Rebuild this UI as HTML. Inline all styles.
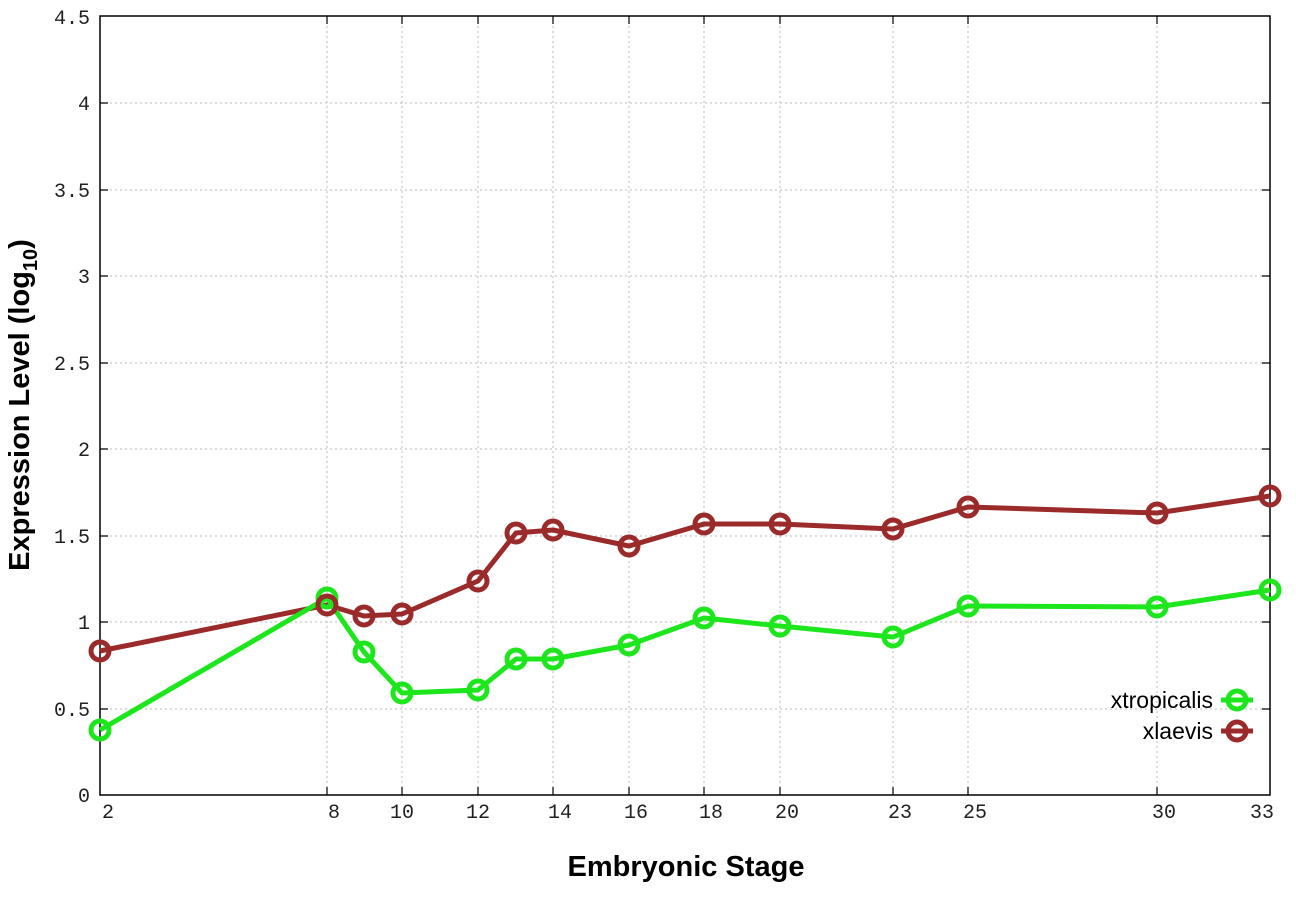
<!DOCTYPE html>
<html><head><style>body{margin:0;background:#fff}</style></head><body>
<svg width="1296" height="907" viewBox="0 0 1296 907" xmlns="http://www.w3.org/2000/svg">
<rect width="1296" height="907" fill="#fff"/>
<g stroke="#bbb" stroke-width="1" stroke-dasharray="2,3">
<line x1="100" x2="1270" y1="709" y2="709"/><line x1="100" x2="1270" y1="622" y2="622"/>
<line x1="100" x2="1270" y1="536" y2="536"/><line x1="100" x2="1270" y1="449" y2="449"/>
<line x1="100" x2="1270" y1="363" y2="363"/><line x1="100" x2="1270" y1="276" y2="276"/>
<line x1="100" x2="1270" y1="190" y2="190"/><line x1="100" x2="1270" y1="103" y2="103"/>
<line x1="327" x2="327" y1="16" y2="795"/><line x1="402" x2="402" y1="16" y2="795"/>
<line x1="478" x2="478" y1="16" y2="795"/><line x1="553" x2="553" y1="16" y2="795"/>
<line x1="629" x2="629" y1="16" y2="795"/><line x1="704" x2="704" y1="16" y2="795"/>
<line x1="780" x2="780" y1="16" y2="795"/><line x1="893" x2="893" y1="16" y2="795"/>
<line x1="968" x2="968" y1="16" y2="795"/><line x1="1157" x2="1157" y1="16" y2="795"/>
</g>
<rect x="100" y="16" width="1170" height="779" fill="none" stroke="#000" stroke-width="1.5"/>
<g stroke="#000" stroke-width="1.2">
<path d="M100 709h8M100 622h8M100 536h8M100 449h8M100 363h8M100 276h8M100 190h8M100 103h8M1270 709h-8M1270 622h-8M1270 536h-8M1270 449h-8M1270 363h-8M1270 276h-8M1270 190h-8M1270 103h-8"/>
<path d="M327 795v-8M402 795v-8M478 795v-8M553 795v-8M629 795v-8M704 795v-8M780 795v-8M893 795v-8M968 795v-8M1157 795v-8M327 16v8M402 16v8M478 16v8M553 16v8M629 16v8M704 16v8M780 16v8M893 16v8M968 16v8M1157 16v8"/>
</g>
<g font-family="Liberation Mono, monospace" font-size="20" fill="#222" text-anchor="end">
<text x="90" y="802">0</text><text x="90" y="716">0.5</text><text x="90" y="629">1</text>
<text x="90" y="543">1.5</text><text x="90" y="456">2</text><text x="90" y="370">2.5</text>
<text x="90" y="283">3</text><text x="90" y="197">3.5</text><text x="90" y="110">4</text><text x="90" y="24">4.5</text>
</g>
<g font-family="Liberation Mono, monospace" font-size="20" fill="#222" text-anchor="middle">
<text x="108" y="818">2</text><text x="334" y="818">8</text><text x="402" y="818">10</text><text x="478" y="818">12</text>
<text x="560" y="818">14</text><text x="636" y="818">16</text><text x="711" y="818">18</text><text x="787" y="818">20</text>
<text x="900" y="818">23</text><text x="975" y="818">25</text><text x="1164" y="818">30</text><text x="1262" y="818">33</text>
</g>
<text x="686" y="876" font-family="Liberation Sans, sans-serif" font-weight="bold" font-size="29" text-anchor="middle">Embryonic Stage</text>
<text transform="translate(29,405) rotate(-90)" font-family="Liberation Sans, sans-serif" font-weight="bold" font-size="29" text-anchor="middle">Expression Level (log<tspan font-size="20" dy="8">10</tspan><tspan dy="-8">)</tspan></text>
<g fill="none" stroke-width="5" stroke-linejoin="round">
<polyline stroke="#9b2a2a" points="100,651 327,605 364,616 402,614 478,581 516,533 553,530 629,546 704,524 780,524 893,529 968,507 1157,513 1270,496"/>
<polyline stroke="#1de61d" points="100,730 327,598 364,652 402,693 478,690 516,659 553,659 629,645 704,618 780,626 893,637 968,606 1157,607 1270,590"/>
<g stroke="#1de61d">
<circle cx="100" cy="730" r="9"/><circle cx="327" cy="598" r="9"/><circle cx="364" cy="652" r="9"/><circle cx="402" cy="693" r="9"/><circle cx="478" cy="690" r="9"/><circle cx="516" cy="659" r="9"/><circle cx="553" cy="659" r="9"/><circle cx="629" cy="645" r="9"/><circle cx="704" cy="618" r="9"/><circle cx="780" cy="626" r="9"/><circle cx="893" cy="637" r="9"/><circle cx="968" cy="606" r="9"/><circle cx="1157" cy="607" r="9"/><circle cx="1270" cy="590" r="9"/>
</g>
<g stroke="#9b2a2a">
<circle cx="100" cy="651" r="9"/><circle cx="327" cy="605" r="9"/><circle cx="364" cy="616" r="9"/><circle cx="402" cy="614" r="9"/><circle cx="478" cy="581" r="9"/><circle cx="516" cy="533" r="9"/><circle cx="553" cy="530" r="9"/><circle cx="629" cy="546" r="9"/><circle cx="704" cy="524" r="9"/><circle cx="780" cy="524" r="9"/><circle cx="893" cy="529" r="9"/><circle cx="968" cy="507" r="9"/><circle cx="1157" cy="513" r="9"/><circle cx="1270" cy="496" r="9"/>
</g>
<line x1="1221" x2="1253" y1="700" y2="700" stroke="#1de61d"/><circle cx="1237" cy="700" r="9" stroke="#1de61d"/>
<line x1="1221" x2="1253" y1="731" y2="731" stroke="#9b2a2a"/><circle cx="1237" cy="731" r="9" stroke="#9b2a2a"/>
</g>
<g font-family="Liberation Sans, sans-serif" font-size="23" text-anchor="end" fill="#000">
<text x="1213" y="708">xtropicalis</text><text x="1213" y="739">xlaevis</text>
</g>
</svg>
</body></html>
